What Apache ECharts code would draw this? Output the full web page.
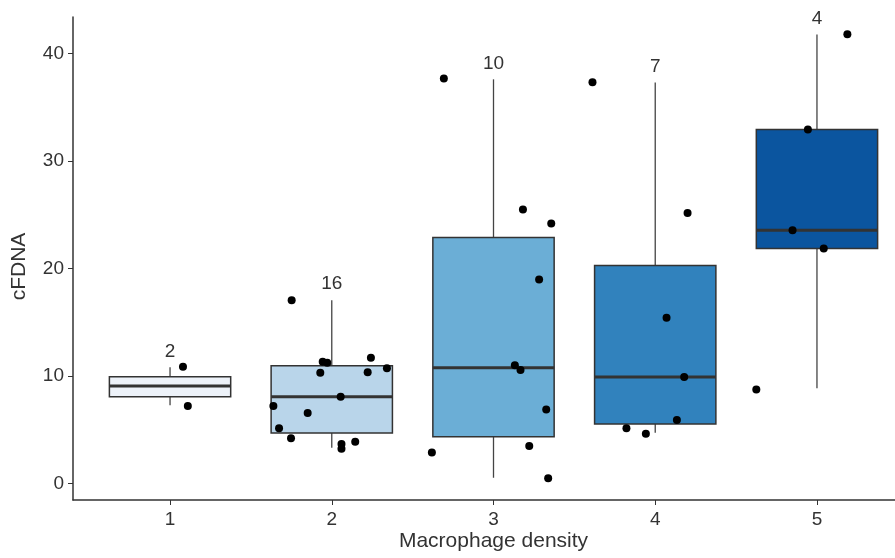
<!DOCTYPE html>
<html>
<head>
<meta charset="utf-8">
<script src="https://cdn.jsdelivr.net/npm/echarts@6/dist/echarts.min.js"></script>
<style>
  html, body { margin: 0; padding: 0; background: #fff; }
  #chart { width: 895px; height: 558px; }
</style>
</head>
<body>
<div id="chart"></div>
<script>
// macrophage density groups
const groups = [1, 2, 3, 4, 5];
const whiskerLow = [7.26, 3.31, 0.52, 4.71, 8.84];
const q1 = [8.06, 4.68, 4.34, 5.52, 21.86];
const median = [9.05, 8.06, 10.75, 9.89, 23.56];
const q3 = [9.92, 10.94, 22.88, 20.28, 32.93];
const whiskerHigh = [10.8, 17.05, 37.6, 37.3, 41.77];
const counts = [2, 16, 10, 7, 4];

// jittered points (x in group units, y = cfDNA)
const jitterX = [
  1.08, 1.11,
  1.752, 1.944, 1.972, 1.929, 2.242, 2.222, 2.341, 2.055, 1.639, 1.851, 1.674, 1.748, 2.06, 2.06, 2.145,
  2.693, 3.182, 3.357, 3.282, 3.132, 3.167, 3.326, 3.221, 2.619, 3.338,
  3.612, 4.2, 4.07, 4.179, 4.134, 3.822, 3.942,
  5.188, 4.944, 4.849, 5.042, 4.625
];
const cfDNA = [
  10.85, 7.19,
  17.05, 11.31, 11.22, 10.29, 11.68, 10.35, 10.70, 8.06, 7.19, 6.54, 5.12, 4.19, 3.66, 3.22, 3.87,
  37.67, 25.49, 24.19, 18.98, 11.0, 10.54, 6.88, 3.47, 2.88, 0.47,
  37.33, 25.17, 15.40, 9.89, 5.89, 5.12, 4.61,
  41.8, 32.93, 23.56, 21.86, 8.74
];

const yTicks = [0, 10, 20, 30, 40];
const boxColors = ['#edf2f9', '#b9d5ea', '#6baed6', '#3182bd', '#0b559f'];
const font = '"Liberation Sans", Arial, sans-serif';
const textColor = '#333';

const boxData = groups.map((g, i) => [g, whiskerLow[i], q1[i], median[i], q3[i], whiskerHigh[i], counts[i]]);
const pointData = jitterX.map((x, i) => [x, cfDNA[i]]);

const chart = echarts.init(document.getElementById('chart'));
chart.setOption({
  animation: false,
  backgroundColor: '#fff',
  grid: {
    left: 73,
    top: 17,
    bottom: 58,
    width: 841,
    containLabel: false,
    outerBoundsMode: 'none'
  },
  xAxis: {
    type: 'value',
    min: 0.4,
    max: 5.6,
    name: 'Macrophage density',
    nameLocation: 'middle',
    nameGap: 31,
    nameMoveOverlap: false,
    nameTextStyle: { fontSize: 21, color: textColor, fontFamily: font },
    axisLine: { show: true, onZero: false, lineStyle: { color: '#333', width: 1.5 } },
    axisTick: { show: true, length: 5, customValues: groups, lineStyle: { color: '#333' } },
    axisLabel: { customValues: groups, fontSize: 19, color: textColor, fontFamily: font, margin: 10 },
    splitLine: { show: false }
  },
  yAxis: {
    type: 'value',
    min: -1.55,
    max: 43.4,
    name: 'cFDNA',
    nameLocation: 'middle',
    nameRotate: 90,
    nameGap: 43,
    nameMoveOverlap: false,
    nameTextStyle: { fontSize: 21, color: textColor, fontFamily: font, padding: [0, 16, 0, 0] },
    axisLine: { show: true, onZero: false, lineStyle: { color: '#333', width: 1.5 } },
    axisTick: { show: true, length: 5, customValues: yTicks, lineStyle: { color: '#333' } },
    axisLabel: { customValues: yTicks, fontSize: 19, color: textColor, fontFamily: font, margin: 9 },
    splitLine: { show: false }
  },
  series: [
    {
      type: 'custom',
      data: boxData,
      encode: { x: 0, y: [1, 2, 3, 4, 5] },
      renderItem: function (params, api) {
        const x = api.value(0);
        const lo = api.coord([x, api.value(1)]);
        const bottom = api.coord([x, api.value(2)]);
        const mid = api.coord([x, api.value(3)]);
        const top = api.coord([x, api.value(4)]);
        const hi = api.coord([x, api.value(5)]);
        const w = api.size([0.75, 0])[0];
        const i = params.dataIndex;
        const whisker = { stroke: '#444', lineWidth: 1.3 };
        return {
          type: 'group',
          children: [
            { type: 'line', shape: { x1: lo[0], y1: lo[1], x2: bottom[0], y2: bottom[1] }, style: whisker },
            { type: 'line', shape: { x1: top[0], y1: top[1], x2: hi[0], y2: hi[1] }, style: whisker },
            {
              type: 'rect',
              shape: { x: bottom[0] - w / 2, y: top[1], width: w, height: bottom[1] - top[1] },
              style: { fill: boxColors[i], stroke: '#333', lineWidth: 1.5 }
            },
            {
              type: 'line',
              shape: { x1: mid[0] - w / 2, y1: mid[1], x2: mid[0] + w / 2, y2: mid[1] },
              style: { stroke: '#333', lineWidth: 3 }
            },
            {
              type: 'text',
              x: hi[0],
              y: hi[1] - 16,
              style: {
                text: String(api.value(6)),
                fontSize: 19,
                fontFamily: font,
                fill: textColor,
                align: 'center',
                verticalAlign: 'middle'
              }
            }
          ]
        };
      }
    },
    {
      type: 'scatter',
      data: pointData,
      symbolSize: 8,
      itemStyle: { color: '#000', opacity: 1 }
    }
  ]
});
</script>
</body>
</html>
